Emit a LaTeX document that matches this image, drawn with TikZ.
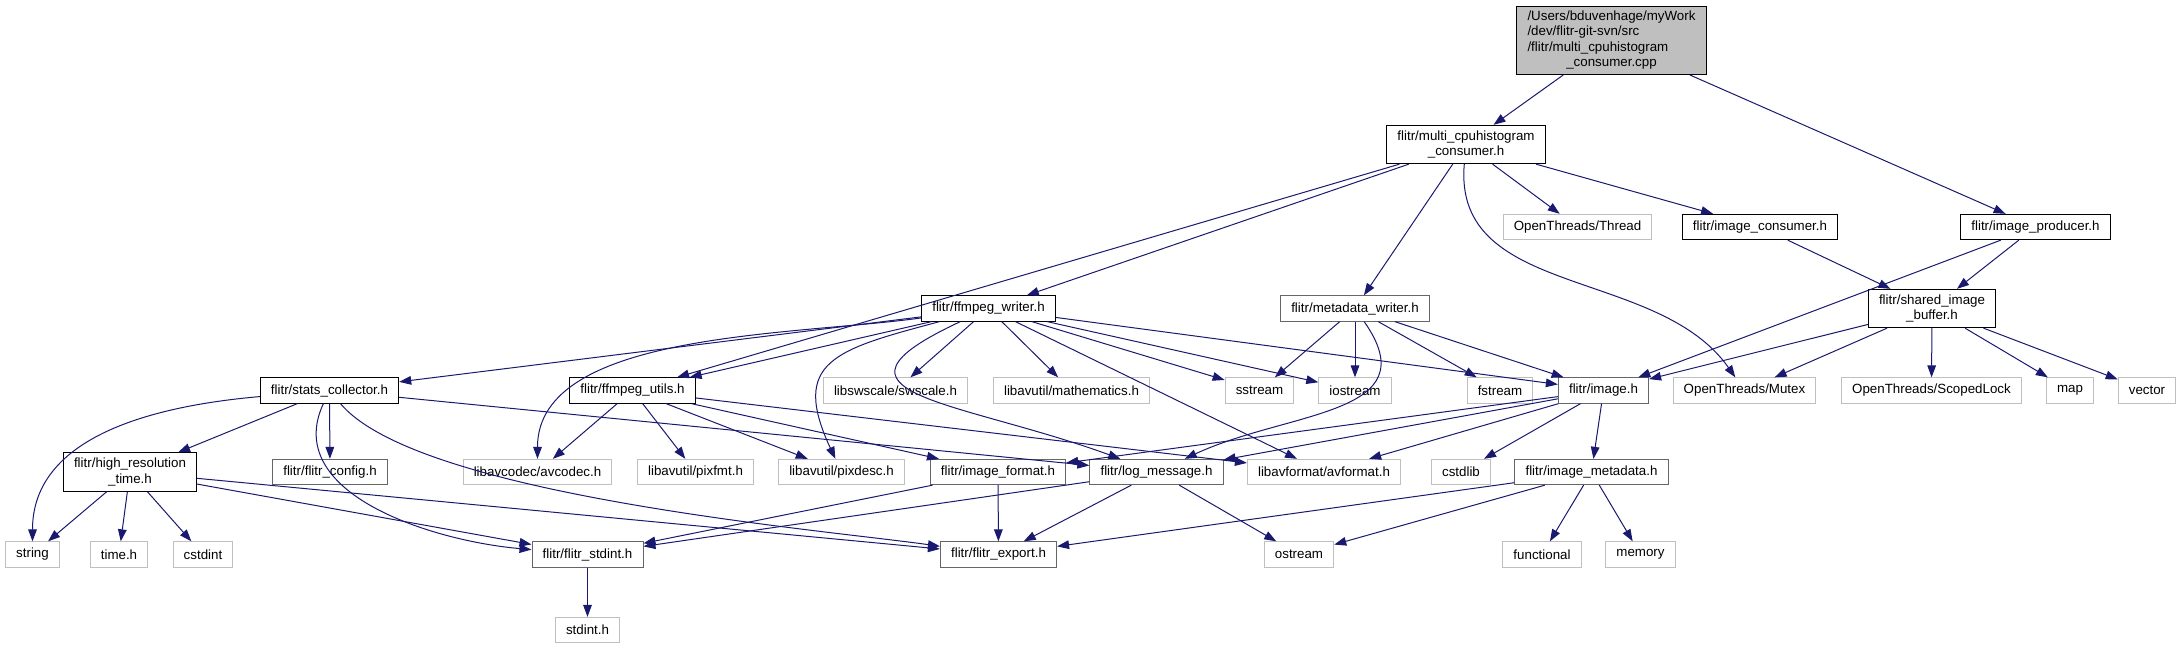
\documentclass[tikz,border=0pt]{standalone}
\usepackage{fontspec}
\setmainfont{Liberation Sans}
\usetikzlibrary{arrows.meta}
\definecolor{edgeblue}{RGB}{25, 25, 112}
\definecolor{extgrey}{RGB}{191, 191, 191}
\definecolor{srcgrey}{RGB}{102, 102, 102}

\begin{document}
\begin{tikzpicture}[x=0.75pt, y=-0.75pt,
    font=\fontsize{10}{11.5}\selectfont,
    basebox/.style={line width=0.75pt, inner xsep=8pt, inner ysep=4pt,
                    minimum height=19pt, align=center},
    hdrbox/.style={basebox, draw=black},
    srcbox/.style={basebox, draw=srcgrey},
    extbox/.style={basebox, draw=extgrey},
    dep/.style={edgeblue, line width=0.75pt,
                -{Triangle[length=9pt, width=6.5pt]}}]
    \useasboundingbox (0,0) rectangle (2182,648);

    % Root file
    \node[hdrbox, fill=extgrey, inner ysep=2.5pt] (root) at (1611.5,40.5)
        {\begin{tabular}{@{}l@{}}/Users/bduvenhage/myWork\\/dev/flitr-git-svn/src\\
         /flitr/multi\_cpuhistogram\\\multicolumn{1}{@{}c@{}}{\_consumer.cpp}\end{tabular}};

    % Rank 1 and 2
    \node[hdrbox] (multi) at (1466,144.5) {flitr/multi\_cpuhistogram\\\_consumer.h};
    \node[extbox] (thread) at (1577.5,227) {OpenThreads/Thread};
    \node[hdrbox] (imgcons) at (1760,227) {flitr/image\_consumer.h};
    \node[hdrbox] (imgprod) at (2035.5,227) {flitr/image\_producer.h};

    % Rank 3
    \node[hdrbox] (ffwriter) at (988.5,308.5) {flitr/ffmpeg\_writer.h};
    \node[srcbox] (mdwriter) at (1355,308.5) {flitr/metadata\_writer.h};
    \node[hdrbox] (shbuf) at (1932,308.5) {flitr/shared\_image\\\_buffer.h};

    % Rank 4
    \node[hdrbox] (stats) at (329.5,390.5) {flitr/stats\_collector.h};
    \node[hdrbox] (ffutils) at (632.5,390.5) {flitr/ffmpeg\_utils.h};
    \node[extbox] (swscale) at (895.5,390.5) {libswscale/swscale.h};
    \node[extbox] (avmath) at (1071.5,390.5) {libavutil/mathematics.h};
    \node[extbox] (sstream) at (1259.5,390.5) {sstream};
    \node[extbox] (iostream) at (1355,390.5) {iostream};
    \node[extbox] (fstream) at (1500,390.5) {fstream};
    \node[srcbox] (image) at (1603.5,390.5) {flitr/image.h};
    \node[extbox] (mutex) at (1744.5,390.5) {OpenThreads/Mutex};
    \node[extbox] (scoped) at (1931.5,390.5) {OpenThreads/ScopedLock};
    \node[extbox] (map) at (2070,390.5) {map};
    \node[extbox] (vector) at (2147,390.5) {vector};

    % Rank 5
    \node[hdrbox] (hrtime) at (130,472) {flitr/high\_resolution\\\_time.h};
    \node[srcbox] (config) at (330,472) {flitr/flitr\_config.h};
    \node[extbox] (avcodec) at (537.5,472) {libavcodec/avcodec.h};
    \node[extbox] (pixfmt) at (695.5,472) {libavutil/pixfmt.h};
    \node[extbox] (pixdesc) at (841.5,472) {libavutil/pixdesc.h};
    \node[srcbox] (imgfmt) at (998,472) {flitr/image\_format.h};
    \node[srcbox] (logmsg) at (1156.5,472) {flitr/log\_message.h};
    \node[extbox] (avformat) at (1324,472) {libavformat/avformat.h};
    \node[extbox] (cstdlib) at (1461,472) {cstdlib};
    \node[srcbox] (imgmeta) at (1591.5,472) {flitr/image\_metadata.h};

    % Rank 6 and 7
    \node[extbox] (string) at (32.5,554.5) {string};
    \node[extbox] (timeh) at (119,554.5) {time.h};
    \node[extbox] (cstdint) at (203,554.5) {cstdint};
    \node[srcbox] (stdintf) at (587.5,554.5) {flitr/flitr\_stdint.h};
    \node[srcbox] (export) at (998.5,554.5) {flitr/flitr\_export.h};
    \node[extbox] (ostream) at (1299,554.5) {ostream};
    \node[extbox] (functional) at (1542,554.5) {functional};
    \node[extbox] (memory) at (1640.5,554.5) {memory};
    \node[extbox] (stdint) at (587.5,630) {stdint.h};

    % Includes of the root and its headers
    \draw[dep] (root) -- (multi);
    \draw[dep] (root) -- (imgprod);
    \draw[dep] (multi) -- (ffwriter);
    \draw[dep] (multi) -- (ffutils);
    \draw[dep] (multi) -- (mdwriter);
    \draw[dep] (multi) -- (thread);
    \draw[dep] (multi) -- (imgcons);
    \draw[dep] (multi) to[out=-95, in=125] (mutex);
    \draw[dep] (imgcons) -- (shbuf);
    \draw[dep] (imgprod) -- (shbuf);
    \draw[dep] (imgprod) -- (image);
    \draw[dep] (shbuf) -- (image);
    \draw[dep] (shbuf) -- (mutex);
    \draw[dep] (shbuf) -- (scoped);
    \draw[dep] (shbuf) -- (map);
    \draw[dep] (shbuf) -- (vector);

    % ffmpeg_writer.h
    \draw[dep] (ffwriter) -- (stats);
    \draw[dep] (ffwriter) -- (ffutils);
    \draw[dep] (ffwriter) to[out=188, in=90, looseness=0.8] (avcodec);
    \draw[dep] (ffwriter) to[out=195, in=115, looseness=1.6] (pixdesc);
    \draw[dep] (ffwriter) to[out=205, in=160, looseness=2.1] (logmsg);
    \draw[dep] (ffwriter) -- (swscale);
    \draw[dep] (ffwriter) -- (avmath);
    \draw[dep] (ffwriter) -- (sstream);
    \draw[dep] (ffwriter) -- (iostream);
    \draw[dep] (ffwriter) -- (avformat);
    \draw[dep] (ffwriter) -- (image);

    % metadata_writer.h
    \draw[dep] (mdwriter) -- (sstream);
    \draw[dep] (mdwriter) -- (iostream);
    \draw[dep] (mdwriter) -- (fstream);
    \draw[dep] (mdwriter) -- (image);
    \draw[dep] (mdwriter) to[out=-55, in=25, looseness=1.3] (logmsg);

    % stats_collector.h
    \draw[dep] (stats) to[out=185, in=90] (string);
    \draw[dep] (stats) -- (hrtime);
    \draw[dep] (stats) to[out=-115, in=175] (stdintf);
    \draw[dep] (stats) -- (config);
    \draw[dep] (stats) to[out=-50, in=172, looseness=0.5] (export);
    \draw[dep] (stats) -- (logmsg);

    % high_resolution_time.h
    \draw[dep] (hrtime) -- (string);
    \draw[dep] (hrtime) -- (timeh);
    \draw[dep] (hrtime) -- (cstdint);
    \draw[dep] (hrtime) -- (stdintf);
    \draw[dep] (hrtime) -- (export);

    % ffmpeg_utils.h
    \draw[dep] (ffutils) -- (avcodec);
    \draw[dep] (ffutils) -- (pixfmt);
    \draw[dep] (ffutils) -- (pixdesc);
    \draw[dep] (ffutils) -- (imgfmt);
    \draw[dep] (ffutils) -- (avformat);

    % image.h
    \draw[dep] (image) -- (imgfmt);
    \draw[dep] (image) -- (logmsg);
    \draw[dep] (image) -- (avformat);
    \draw[dep] (image) -- (cstdlib);
    \draw[dep] (image) -- (imgmeta);

    % Bottom ranks
    \draw[dep] (imgfmt) -- (stdintf);
    \draw[dep] (imgfmt) -- (export);
    \draw[dep] (logmsg) -- (stdintf);
    \draw[dep] (logmsg) -- (export);
    \draw[dep] (logmsg) -- (ostream);
    \draw[dep] (imgmeta) -- (export);
    \draw[dep] (imgmeta) -- (ostream);
    \draw[dep] (imgmeta) -- (functional);
    \draw[dep] (imgmeta) -- (memory);
    \draw[dep] (stdintf) -- (stdint);
\end{tikzpicture}
\end{document}
